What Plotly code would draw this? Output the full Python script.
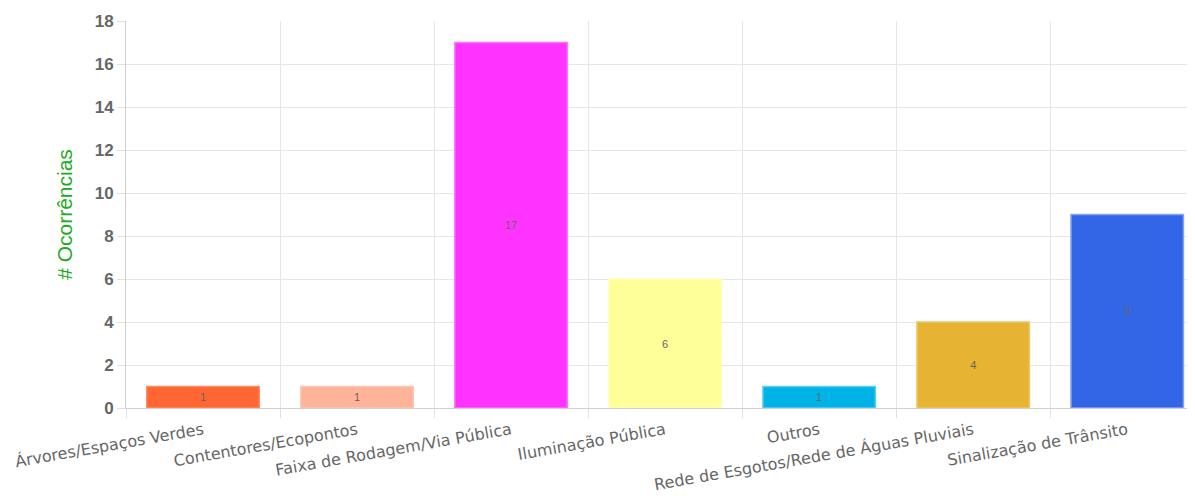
import plotly.graph_objects as go

categorias = [
    "Árvores/Espaços Verdes",
    "Contentores/Ecopontos",
    "Faixa de Rodagem/Via Pública",
    "Iluminação Pública",
    "Outros",
    "Rede de Esgotos/Rede de Águas Pluviais",
    "Sinalização de Trânsito",
]
ocorrencias = [1, 1, 17, 6, 1, 4, 9]
cores = ["#FF6633", "#FFB399", "#FF33FF", "#FFFF99", "#00B3E6", "#E6B333", "#3366E6"]
bordas = ["#FF8A60", "#FFC4B0", "#FF70FF", "#FFFFB8", "#5CCDF0", "#EEC865", "#86A3F0"]

fig = go.Figure()
fig.add_trace(
    go.Bar(
        x=categorias,
        y=ocorrencias,
        marker=dict(color=cores, line=dict(color=bordas, width=1.5)),
        width=0.73,
        text=ocorrencias,
        textposition="inside",
        insidetextanchor="middle",
        textfont=dict(family="Arial", size=11, color="#666666"),
        hoverinfo="x+y",
    )
)

# a página tem 8px de margem no body, por isso tudo vai deslocado
fig.update_layout(
    width=1187,
    height=491,
    template="plotly_white",
    plot_bgcolor="white",
    paper_bgcolor="white",
    showlegend=False,
    margin=dict(l=118, r=0, t=13, b=91),
    xaxis=dict(
        range=[-0.5, 6.44],  # a última coluna fica cortada à direita, como no original
        tickson="boundaries",
        ticks="outside",
        ticklen=9,
        tickcolor="#e0e0e0",
        showgrid=True,
        gridcolor="#e6e6e6",
        tickangle=-10,
        ticklabelstandoff=6,
        tickfont=dict(family="Comic Sans MS, DejaVu Sans, sans-serif", size=16, color="#666666"),
        showline=True,
        linecolor="#d0d0d0",
        automargin=False,
    ),
    yaxis=dict(
        range=[0, 18],
        dtick=2,
        ticks="outside",
        ticklen=8,
        tickcolor="#e0e0e0",
        gridcolor="#e6e6e6",
        showline=True,
        linecolor="#d0d0d0",
        zeroline=False,
        tickfont=dict(family="Arial", size=17, color="#666666", weight="bold"),
        title=dict(
            text="# Ocorrências",
            font=dict(family="Arial", size=21, color="#22AA22"),
            standoff=16,
        ),
        automargin=False,
    ),
)

fig.write_html("out.html")
